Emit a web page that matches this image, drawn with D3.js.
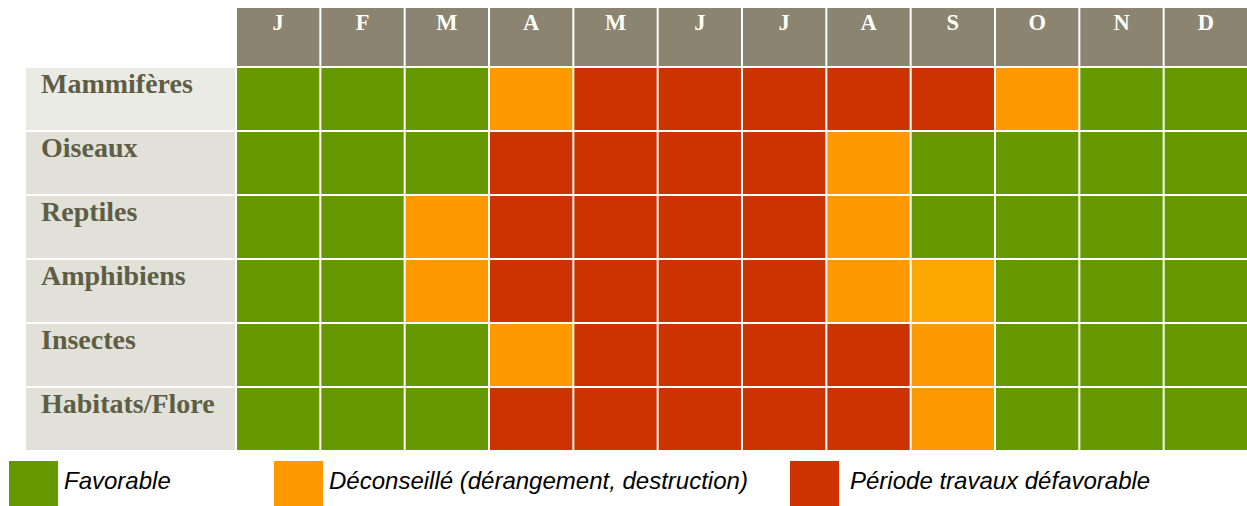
<!DOCTYPE html>
<html><head><meta charset="utf-8">
<script src="https://cdn.jsdelivr.net/npm/d3@7"></script>
<style>html,body{margin:0;padding:0;background:#fff;}svg{display:block;}</style>
</head><body>
<svg id="chart" width="1247" height="506"></svg>
<script>
// ---- data ----
const months = ["J","F","M","A","M","J","J","A","S","O","N","D"];
const groups = ["Mammifères","Oiseaux","Reptiles","Amphibiens","Insectes","Habitats/Flore"];
// F = favorable, D = déconseillé, D2 = déconseillé (nuance claire), P = période défavorable
const mammiferes = ["F","F","F","D","P","P","P","P","P","D","F","F"];
const oiseaux    = ["F","F","F","P","P","P","P","D","F","F","F","F"];
const reptiles   = ["F","F","D","P","P","P","P","D","F","F","F","F"];
const amphibiens = ["F","F","D","P","P","P","P","D","D2","F","F","F"];
const insectes   = ["F","F","F","D","P","P","P","P","D","F","F","F"];
const habitats   = ["F","F","F","P","P","P","P","P","D","F","F","F"];
const statusRows = [mammiferes, oiseaux, reptiles, amphibiens, insectes, habitats];
const legendKeys = ["F","D","P"];
const legendLabels = ["Favorable","Déconseillé (dérangement, destruction)","Période travaux défavorable"];

// ---- styles ----
const color = d3.scaleOrdinal()
  .domain(["F","D","D2","P"])
  .range(["#669900","#FF9900","#FCA800","#CC3300"]);

const svg = d3.select("#chart");
const gap = 2;
const x = d3.scaleBand().domain(d3.range(months.length)).range([237, 1249]);
const y = d3.scaleBand().domain(d3.range(groups.length)).range([68, 452]);
const headerTop = 8, headerBottom = 66;

// header
const head = svg.append("g");
head.selectAll("rect").data(months).join("rect")
  .attr("x",(d,i)=>x(i)).attr("y",headerTop)
  .attr("width",x.bandwidth()-gap).attr("height",headerBottom-headerTop)
  .attr("fill","#8A8471");
head.selectAll("text").data(months).join("text")
  .attr("x",(d,i)=>x(i)+(x.bandwidth()-gap)/2).attr("y",headerTop+22)
  .attr("text-anchor","middle")
  .attr("font-family","'Liberation Serif', serif").attr("font-weight","bold")
  .attr("font-size",22.5).attr("fill","#FFFFFA")
  .text(d=>d);

// row labels
const lab = svg.append("g");
lab.selectAll("rect").data(groups).join("rect")
  .attr("x",26).attr("y",(d,i)=>y(i))
  .attr("width",235-26).attr("height",y.bandwidth()-gap)
  .attr("fill",(d,i)=>i===0?"#EBEBE5":"#E1E1D9");
lab.selectAll("text").data(groups).join("text")
  .attr("x",41).attr("y",(d,i)=>y(i)+25)
  .attr("font-family","'Liberation Serif', serif").attr("font-weight","bold")
  .attr("font-size",28).attr("fill","#5E5E45")
  .text(d=>d);

// cells
const rowsG = svg.append("g").selectAll("g").data(statusRows).join("g")
  .attr("transform",(d,i)=>`translate(0,${y(i)})`);
rowsG.selectAll("rect").data(d=>d).join("rect")
  .attr("x",(d,i)=>x(i)).attr("y",0)
  .attr("width",x.bandwidth()-gap).attr("height",y.bandwidth()-gap)
  .attr("fill",d=>color(d));

// legend
const legX = [9, 274, 790];
const leg = svg.append("g").selectAll("g").data(legendKeys).join("g")
  .attr("transform",(d,i)=>`translate(${legX[i]},461)`);
leg.append("rect").attr("width",49).attr("height",45).attr("fill",d=>color(d));
leg.append("text").attr("x",(d,i)=>i===2?60:55).attr("y",28)
  .attr("font-family","'Liberation Sans', sans-serif").attr("font-style","italic")
  .attr("font-size",24).attr("fill","#000")
  .text((d,i)=>legendLabels[i]);
</script>
</body></html>
